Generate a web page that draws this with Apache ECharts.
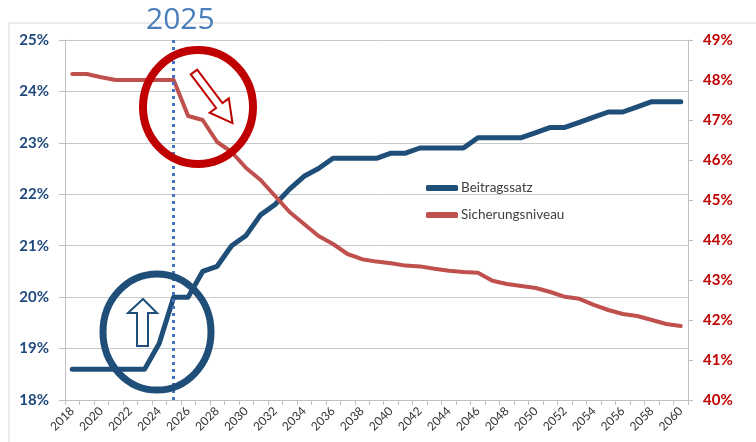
<!DOCTYPE html>
<html>
<head>
<meta charset="utf-8">
<title>Beitragssatz / Sicherungsniveau</title>
<script src="https://cdn.jsdelivr.net/npm/echarts@6/dist/echarts.min.js"></script>
<style>
    html, body { margin: 0; padding: 0; background: #fff; }
    #chart { width: 756px; height: 442px; }
</style>
</head>
<body>
<div id="chart"></div>
<script>
// Jahre 2018 - 2060
var years = [];
for (var y = 2018; y <= 2060; y++) {
    years.push(String(y));
}

// Beitragssatz in % (linke Achse)
var beitragssatz = [
    18.6, 18.6, 18.6, 18.6, 18.6, 18.6, 19.1, 20.0, 20.0, 20.5,
    20.6, 21.0, 21.2, 21.6, 21.8, 22.1, 22.35, 22.5, 22.7, 22.7,
    22.7, 22.7, 22.8, 22.8, 22.9, 22.9, 22.9, 22.9, 23.1, 23.1,
    23.1, 23.1, 23.2, 23.3, 23.3, 23.4, 23.5, 23.6, 23.6, 23.7,
    23.8, 23.8, 23.8
];

// Sicherungsniveau in % (rechte Achse)
var sicherungsniveau = [
    48.15, 48.15, 48.07, 48.0, 48.0, 48.0, 48.0, 48.0, 47.1, 47.0,
    46.45, 46.2, 45.8, 45.5, 45.1, 44.7, 44.4, 44.1, 43.9, 43.65,
    43.52, 43.46, 43.42, 43.36, 43.34, 43.28, 43.23, 43.2, 43.18, 42.98,
    42.9, 42.85, 42.8, 42.7, 42.58, 42.53, 42.38, 42.25, 42.15, 42.1,
    42.0, 41.9, 41.85
];

// Achsenbereiche
var leftAxis = { min: 18, max: 25, step: 1 };
var rightAxis = { min: 40, max: 49, step: 1 };
var markYear = '2025';

var font = 'Lato, "Open Sans", sans-serif';
var blue = '#1F4E79';
var red = '#C0504D';

var myChart = echarts.init(document.getElementById('chart'));

var option = {
    animation: false,
    backgroundColor: '#fff',
    textStyle: { fontFamily: font },
    grid: {
        left: 65,
        right: 68,
        top: 40,
        bottom: 42
    },
    legend: {
        orient: 'vertical',
        left: 421,
        top: 176,
        itemWidth: 32,
        itemHeight: 6,
        itemGap: 13,
        icon: 'roundRect',
        textStyle: {
            fontFamily: font,
            fontSize: 13.5,
            color: '#404040',
            padding: [0, 0, 0, -2]
        },
        data: ['Beitragssatz', 'Sicherungsniveau']
    },
    xAxis: {
        type: 'category',
        data: years,
        boundaryGap: true,
        axisLine: { lineStyle: { color: '#BFBFBF', width: 1 } },
        axisTick: {
            show: true,
            interval: 0,
            length: 5,
            lineStyle: { color: '#BFBFBF' }
        },
        axisLabel: {
            interval: 1,
            rotate: 45,
            margin: 9,
            fontFamily: font,
            fontSize: 12,
            color: '#333333'
        },
        splitLine: { show: false }
    },
    yAxis: [
        {
            type: 'value',
            position: 'left',
            min: leftAxis.min,
            max: leftAxis.max,
            interval: leftAxis.step,
            axisLine: { show: true, lineStyle: { color: '#BFBFBF' } },
            axisTick: { show: true, length: 6, lineStyle: { color: '#BFBFBF' } },
            axisLabel: {
                formatter: '{value}%',
                margin: 16,
                fontFamily: font,
                fontSize: 15,
                fontWeight: 'bold',
                color: '#1F497D'
            },
            splitLine: { show: true, lineStyle: { color: '#C8C8C8', width: 1 } }
        },
        {
            type: 'value',
            position: 'right',
            min: rightAxis.min,
            max: rightAxis.max,
            interval: rightAxis.step,
            axisLine: { show: true, lineStyle: { color: '#BFBFBF' } },
            axisTick: { show: true, length: 5, lineStyle: { color: '#BFBFBF' } },
            axisLabel: {
                formatter: '{value}%',
                margin: 15,
                fontFamily: font,
                fontSize: 15,
                fontWeight: 'bold',
                color: '#C00000'
            },
            splitLine: { show: false }
        }
    ],
    series: [
        {
            name: 'Beitragssatz',
            type: 'line',
            yAxisIndex: 0,
            data: beitragssatz,
            symbol: 'none',
            color: blue,
            lineStyle: { color: blue, width: 5, cap: 'round', join: 'round' },
            // gestrichelte Linie bei 2025
            markLine: {
                silent: true,
                symbol: 'none',
                label: { show: false },
                lineStyle: { color: '#4472C4', width: 3, type: [3, 4] },
                data: [{ xAxis: markYear }]
            },
            z: 3
        },
        {
            name: 'Sicherungsniveau',
            type: 'line',
            yAxisIndex: 1,
            data: sicherungsniveau,
            symbol: 'none',
            color: red,
            lineStyle: { color: red, width: 4, cap: 'round', join: 'round' },
            z: 4
        }
    ],
    graphic: [
        // Rahmen
        {
            type: 'rect',
            shape: { x: 9, y: 23, width: 800, height: 500 },
            style: { fill: 'none', stroke: '#D9D9D9', lineWidth: 1 },
            silent: true,
            z: 0
        },
        // Jahr
        {
            type: 'text',
            left: 146,
            top: 5,
            style: {
                text: '2025',
                font: '30px "Open Sans", Lato, sans-serif',
                fill: '#4A7EBB'
            },
            z: 10
        },
        // roter Kreis
        {
            type: 'ellipse',
            shape: { cx: 198, cy: 107, rx: 55, ry: 57 },
            style: { fill: 'none', stroke: '#C00000', lineWidth: 8 },
            z: 10
        },
        // blauer Kreis
        {
            type: 'ellipse',
            shape: { cx: 157, cy: 332, rx: 54, ry: 58 },
            style: { fill: 'none', stroke: blue, lineWidth: 7 },
            z: 10
        },
        // Pfeil nach oben
        {
            type: 'polygon',
            shape: {
                points: [[143, 299], [157, 313], [148, 313], [148, 346], [137, 346], [137, 313], [128, 313]]
            },
            style: { fill: '#fff', stroke: blue, lineWidth: 2 },
            z: 11
        },
        // Pfeil nach unten rechts
        {
            type: 'polygon',
            x: 194,
            y: 72,
            rotation: 0.645,
            shape: {
                points: [[-4, 0], [4, 0], [4, 42], [12, 42], [0, 64], [-12, 42], [-4, 42]]
            },
            style: { fill: '#fff', stroke: '#C00000', lineWidth: 2 },
            z: 11
        }
    ]
};

myChart.setOption(option);
</script>
</body>
</html>
